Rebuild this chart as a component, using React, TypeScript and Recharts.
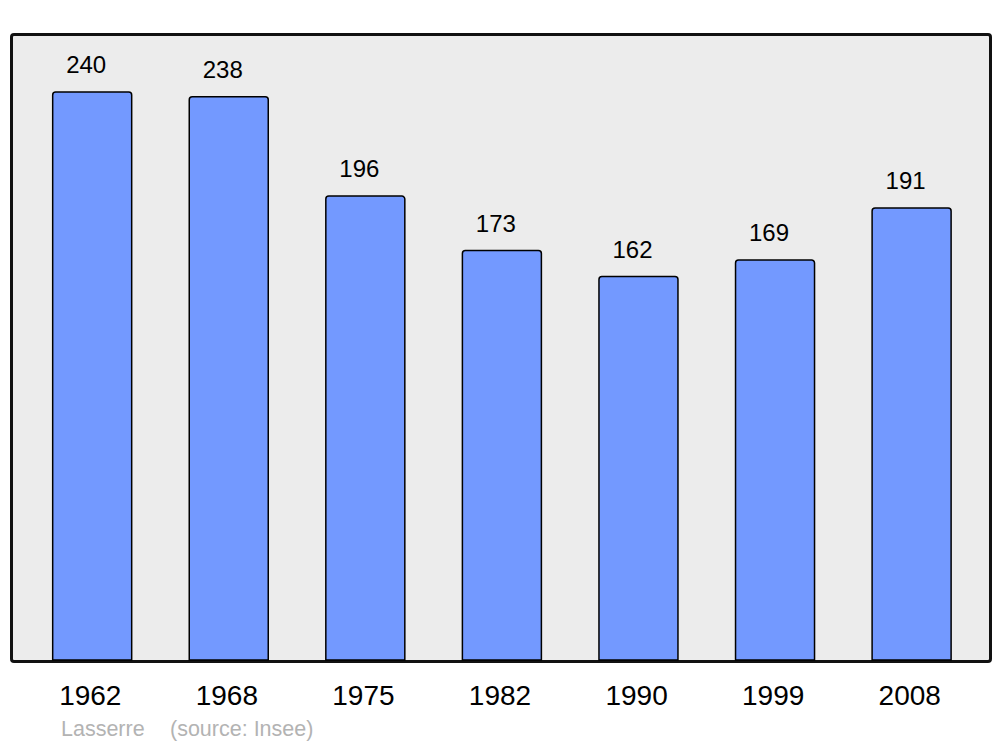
import { Bar, BarChart, LabelList, XAxis, YAxis } from 'recharts';

const years = ['1962', '1968', '1975', '1982', '1990', '1999', '2008'];
const population = [240, 238, 196, 173, 162, 169, 191];

const data = years.map((year, i) => ({ year, population: population[i] }));

const FONT = '"Liberation Sans", Arial, sans-serif';

export default function App() {
  const footerStyle = {
    position: 'absolute' as const,
    top: 717,
    fontFamily: FONT,
    fontSize: 21.5,
    color: '#b3b3b3',
    whiteSpace: 'pre' as const,
  };

  return (
    <div style={{ position: 'absolute', left: 0, top: 0, width: 1000, height: 747, background: '#fff' }}>
      {/* plot frame */}
      <div
        style={{
          position: 'absolute',
          left: 10,
          top: 33,
          width: 976,
          height: 624,
          border: '3px solid #111',
          borderRadius: 4,
          background: '#ececec',
        }}
      />
      <div style={{ position: 'absolute', left: 0, top: 0 }}>
        <BarChart
          width={1000}
          height={747}
          data={data}
          margin={{ top: 34, right: 11, left: 11, bottom: 47 }}
          barCategoryGap='21%'
        >
          <XAxis
            dataKey='year'
            height={40}
            axisLine={false}
            tickLine={false}
            tickMargin={19}
            padding={{ left: 13, right: 9 }}
            tick={{ fill: '#000', fontSize: 28, fontFamily: FONT, dx: -2 }}
          />
          <YAxis hide domain={[0, 264.5]} />
          <Bar
            dataKey='population'
            fill='#7399ff'
            stroke='#000'
            strokeWidth={1.5}
            radius={[3, 3, 0, 0]}
            isAnimationActive={false}
          >
            <LabelList
              dataKey='population'
              position='top'
              offset={19}
              dx={-6}
              fill='#000'
              fontSize={24}
              fontFamily={FONT}
            />
          </Bar>
        </BarChart>
      </div>
      {/* footer */}
      <div style={{ ...footerStyle, left: 61 }}>Lasserre</div>
      <div style={{ ...footerStyle, left: 170 }}>(source: Insee)</div>
    </div>
  );
}
